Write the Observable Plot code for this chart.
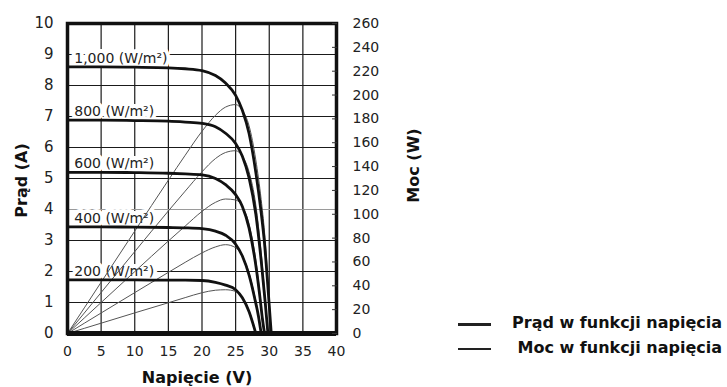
<!DOCTYPE html>
<html><head><meta charset="utf-8">
<script src="https://cdn.jsdelivr.net/npm/d3@7"></script>
<script src="https://cdn.jsdelivr.net/npm/@observablehq/plot@0.6"></script>
<style>
body{margin:0;background:#fff;}
#wrap{position:relative;width:727px;height:387px;overflow:hidden;}
.legline{position:absolute;left:458px;width:33px;background:#222;}
.legtext{position:absolute;right:5px;font:bold 16px "DejaVu Sans";color:#111;white-space:nowrap;line-height:18px;}
</style></head><body><div id="wrap"></div>
<script>
// Irradiance labels
const irradiance = ["1,000 (W/m²)", "800 (W/m²)", "600 (W/m²)", "400 (W/m²)", "200 (W/m²)"];

// Voltage (V), current (A) and power (W)
const v1000 = [0, 5, 10, 15, 17.5, 20, 22, 23.5, 25, 26, 27, 28, 28.8, 29.3, 29.8, 30.3];
const i1000 = [8.6, 8.6, 8.59, 8.57, 8.54, 8.48, 8.32, 8.08, 7.68, 7.2, 6.45, 5.2, 3.9, 2.9, 1.5, 0];
const p1000 = [0, 43, 85.9, 128.6, 149.5, 169.6, 183, 189.9, 192, 187.2, 174.2, 145.6, 112.3, 85, 44.7, 0];

const v800 = [0, 5, 10, 15, 17.5, 20, 22, 23.5, 25, 26, 27, 28, 28.8, 29.4, 29.8];
const i800 = [6.88, 6.88, 6.87, 6.85, 6.82, 6.78, 6.67, 6.46, 6.13, 5.72, 5.02, 3.85, 2.35, 1.0, 0];
const p800 = [0, 34.4, 68.7, 102.8, 119.4, 135.6, 146.7, 151.8, 153.3, 148.7, 135.5, 107.8, 67.7, 29.4, 0];

const v600 = [0, 5, 10, 15, 17.5, 20, 22, 23.5, 25, 26, 27, 28, 28.6, 29, 29.3];
const i600 = [5.2, 5.2, 5.19, 5.17, 5.15, 5.12, 5.0, 4.8, 4.48, 4.1, 3.4, 2.2, 1.2, 0.45, 0];
const p600 = [0, 26, 51.9, 77.6, 90.1, 102.4, 110, 112.8, 112, 106.6, 91.8, 61.6, 34.3, 13.1, 0];

const v400 = [0, 5, 10, 15, 17.5, 20, 22, 23.5, 25, 26, 27, 27.8, 28.4, 28.8];
const i400 = [3.44, 3.44, 3.43, 3.42, 3.41, 3.38, 3.3, 3.17, 2.88, 2.5, 1.88, 1.17, 0.55, 0];
const p400 = [0, 17.2, 34.3, 51.3, 59.7, 67.6, 72.6, 74.5, 72, 65, 50.8, 32.5, 15.6, 0];

const v200 = [0, 5, 10, 15, 17.5, 20, 22, 23.5, 25, 26, 27, 27.6, 28];
const i200 = [1.73, 1.73, 1.73, 1.72, 1.72, 1.71, 1.65, 1.56, 1.41, 1.15, 0.7, 0.3, 0];
const p200 = [0, 8.65, 17.3, 25.8, 30.1, 34.2, 36.3, 36.7, 35.3, 29.9, 18.9, 8.3, 0];

// Axis ticks and titles
const xTicks = [0, 5, 10, 15, 20, 25, 30, 35, 40];
const yTicks = [0, 1, 2, 3, 4, 5, 6, 7, 8, 9, 10];
const powerTicks = [0, 20, 40, 60, 80, 100, 120, 140, 160, 180, 200, 220, 240, 260];
const xTitle = "Napięcie (V)";
const yTitle = "Prąd (A)";
const y2Title = "Moc (W)";
const legendLabels = ["Prąd w funkcji napięcia", "Moc w funkcji napięcia"];

// Right axis: 260 W spans the same height as 10 A
const wattsPerAmp = 260 / 10;

const series = [
  {label: irradiance[0], v: v1000, i: i1000, p: p1000},
  {label: irradiance[1], v: v800, i: i800, p: p800},
  {label: irradiance[2], v: v600, i: i600, p: p600},
  {label: irradiance[3], v: v400, i: i400, p: p400},
  {label: irradiance[4], v: v200, i: i200, p: p200}
];
const rows = series.flatMap(s => s.v.map((v, k) => ({label: s.label, v, i: s.i[k], p: s.p[k]})));
const labelRows = series.map(s => ({label: s.label, v: 1, i: s.i[0]}));

const font = "DejaVu Sans";

const chart = Plot.plot({
  width: 727,
  height: 387,
  marginLeft: 67,
  marginRight: 391,
  marginTop: 23,
  marginBottom: 54,
  style: {fontFamily: font, fontSize: "14px", color: "#222", background: "white"},
  x: {domain: [0, 40], axis: null},
  y: {domain: [0, 10], axis: null},
  marks: [
    Plot.ruleX(xTicks, {stroke: "#1a1a1a", strokeWidth: 1.2}),
    Plot.ruleY(yTicks.filter(d => d !== 4), {stroke: "#1a1a1a", strokeWidth: 1.2}),
    Plot.ruleY(yTicks.filter(d => d === 4), {stroke: "#9a9a9a", strokeWidth: 1.2}),
    Plot.text(labelRows, {x: "v", y: "i", text: "label", textAnchor: "start", lineAnchor: "bottom", dy: -4,
      fontSize: 14, fill: "#222", stroke: "white", strokeWidth: 8, strokeLinejoin: "round", paintOrder: "stroke"}),
    Plot.line(rows, {x: "v", y: d => d.p / wattsPerAmp, z: "label", stroke: "#555", strokeWidth: 1, curve: "monotone-x"}),
    Plot.line(rows, {x: "v", y: "i", z: "label", stroke: "#111", strokeWidth: 2.8, curve: "monotone-x"}),
    Plot.frame({stroke: "#111", strokeWidth: 3.5}),
    Plot.ruleY([0], {stroke: "#111", strokeWidth: 5}),
    Plot.axisX(xTicks, {anchor: "bottom", tickSize: 0, tickPadding: 13, fontSize: 14, label: null}),
    Plot.axisY(yTicks, {anchor: "left", tickSize: 0, tickPadding: 14, fontSize: 15, label: null}),
    Plot.axisY(powerTicks.map(p => p / wattsPerAmp), {anchor: "right", tickSize: -5, tickPadding: 21, fontSize: 14,
      tickFormat: d => String(Math.round(d * wattsPerAmp)), label: null, stroke: "#333"}),
    Plot.text([xTitle], {frameAnchor: "bottom", text: d => d, textAnchor: "middle", lineAnchor: "middle", dx: -5, dy: 44, fontSize: 16, fontWeight: "bold", fill: "#111"}),
    Plot.text([yTitle], {frameAnchor: "left", text: d => d, textAnchor: "middle", lineAnchor: "middle", rotate: -90, dx: -46, dy: 2, fontSize: 16, fontWeight: "bold", fill: "#111"}),
    Plot.text([y2Title], {frameAnchor: "right", text: d => d, textAnchor: "middle", lineAnchor: "middle", rotate: -90, dx: 77, dy: -13, fontSize: 16, fontWeight: "bold", fill: "#111"})
  ]
});

const wrap = document.getElementById("wrap");
wrap.appendChild(chart);

// Legend
const legend = [
  {text: legendLabels[0], y: 324, w: 3},
  {text: legendLabels[1], y: 349, w: 1.6}
];
for (const item of legend) {
  const line = document.createElement("div");
  line.className = "legline";
  line.style.top = (item.y - item.w / 2) + "px";
  line.style.height = item.w + "px";
  wrap.appendChild(line);
  const t = document.createElement("div");
  t.className = "legtext";
  t.style.top = (item.y - 10) + "px";
  t.textContent = item.text;
  wrap.appendChild(t);
}
</script></body></html>
